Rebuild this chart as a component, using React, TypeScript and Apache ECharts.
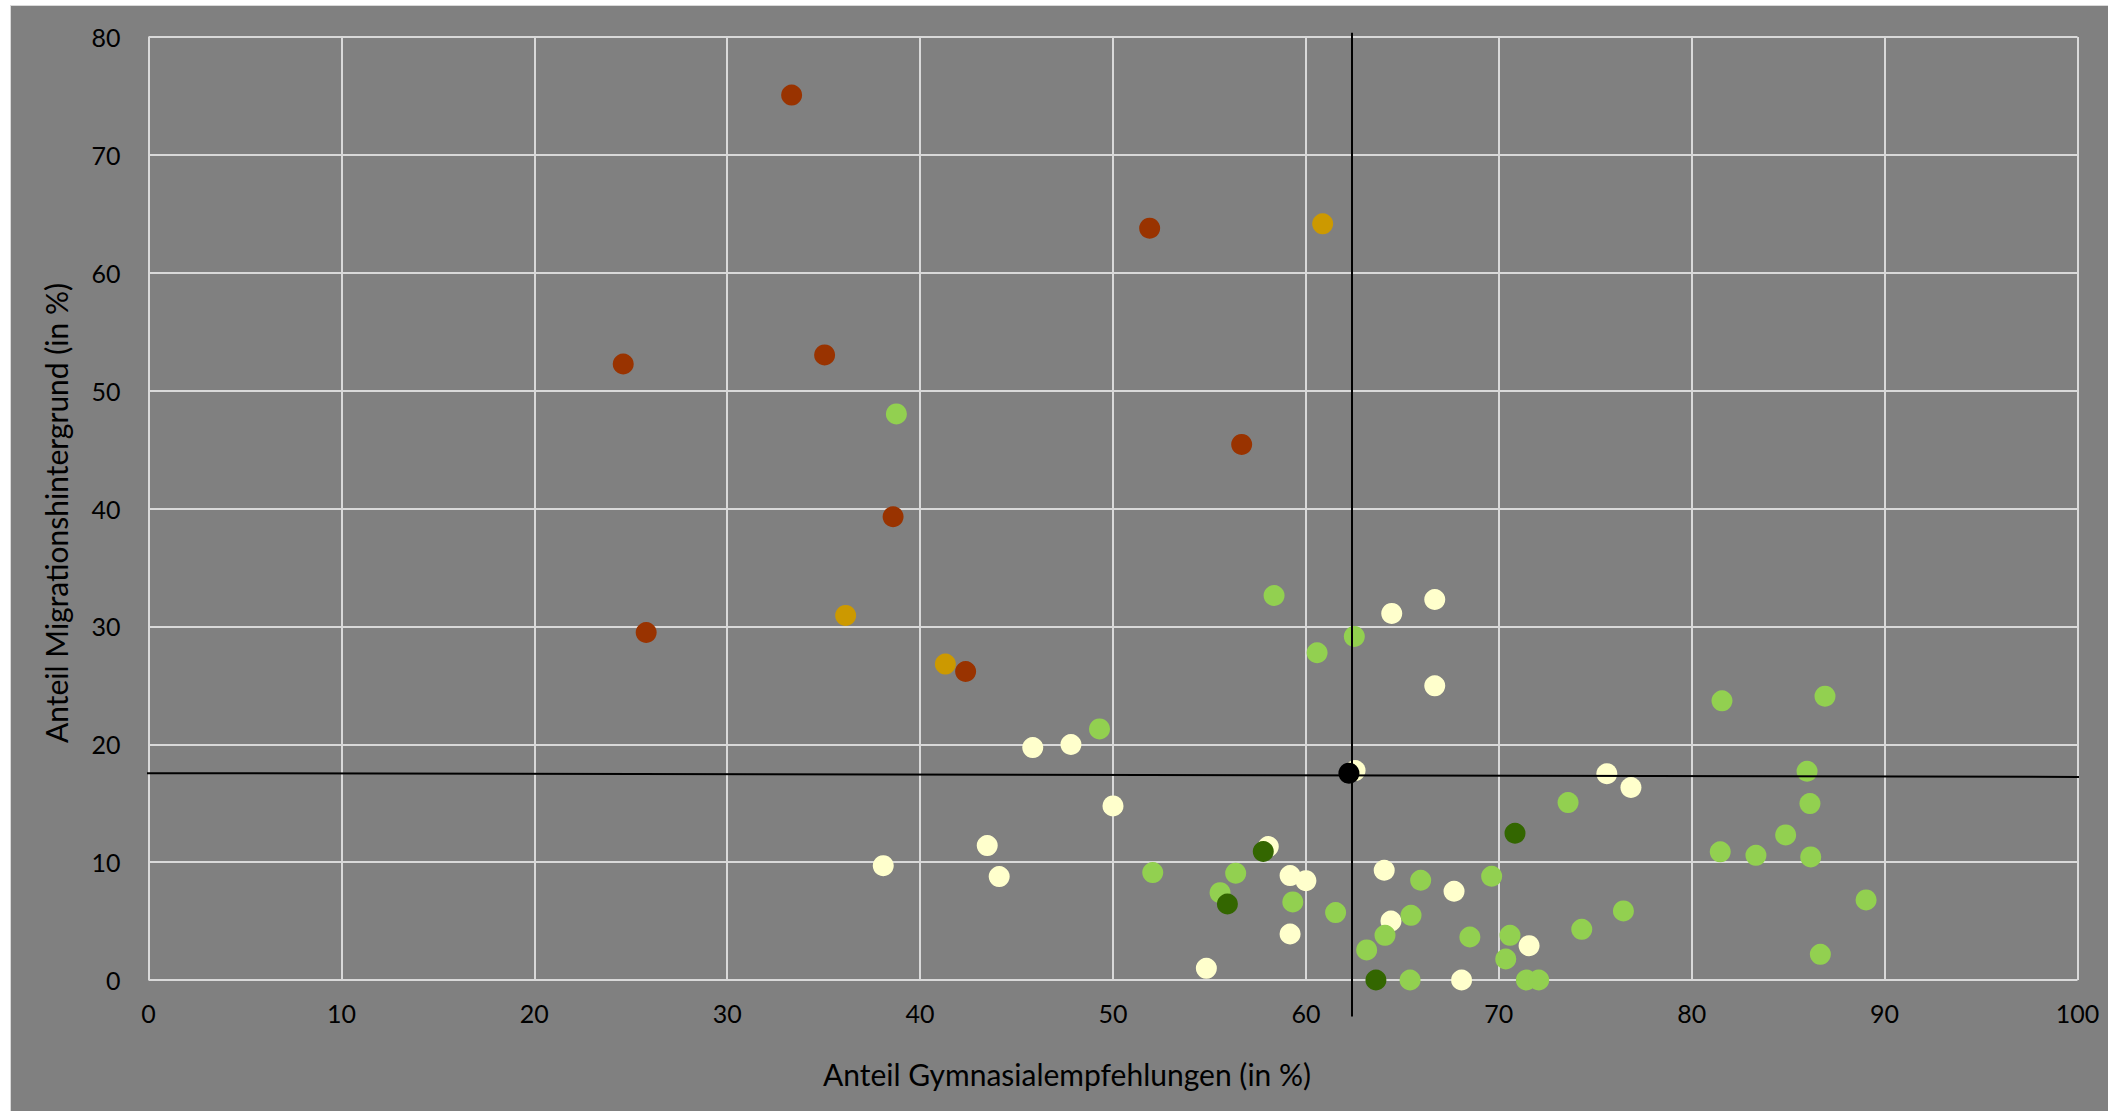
import React, { useEffect, useRef } from "react";
import * as echarts from "echarts";

// Data: [Anteil Gymnasialempfehlungen, Anteil Migrationshintergrund]
const paleYellowPoints: number[][] = [
  [62.55, 17.77], [75.6, 17.5], [76.85, 16.33], [50.0, 14.77], [58.05, 11.32],
  [59.18, 8.86], [60.0, 8.43], [59.18, 3.9], [54.84, 0.99], [64.06, 9.31],
  [67.68, 7.53], [64.41, 5.0], [68.07, 0], [71.57, 2.91], [66.68, 32.28],
  [64.45, 31.1], [66.68, 24.96], [45.84, 19.72], [47.82, 19.98], [38.09, 9.7],
  [43.48, 11.4], [44.1, 8.77],
];
const lightGreenPoints: number[][] = [
  [49.3, 21.3], [38.77, 48.02], [58.35, 32.62], [62.51, 29.15], [60.58, 27.76],
  [81.57, 23.68], [86.91, 24.08], [85.98, 17.71], [86.13, 14.97], [73.59, 15.05],
  [84.87, 12.31], [81.48, 10.87], [83.33, 10.58], [86.17, 10.44], [89.04, 6.79],
  [86.67, 2.18], [76.46, 5.86], [52.06, 9.11], [56.36, 9.06], [55.55, 7.41],
  [59.32, 6.62], [61.54, 5.72], [65.95, 8.46], [69.63, 8.8], [65.45, 5.49],
  [64.1, 3.79], [63.15, 2.55], [65.4, 0], [68.5, 3.65], [70.58, 3.79],
  [70.36, 1.78], [71.43, 0], [72.07, 0], [74.3, 4.3],
];
const darkGreenPoints: number[][] = [
  [57.79, 10.9], [55.93, 6.45], [70.84, 12.45], [63.63, 0],
];
const orangePoints: number[][] = [
  [60.87, 64.15], [36.14, 30.93], [41.31, 26.8],
];
const redPoints: number[][] = [
  [33.34, 75.07], [24.61, 52.26], [35.05, 53.03], [25.8, 29.48],
  [38.6, 39.3], [42.36, 26.17], [51.9, 63.78], [56.67, 45.44],
];
const meanPoint: number[][] = [[62.23, 17.55]];

const verticalRefLine: number[][] = [[62.39, 80.37], [62.39, -3.1]];
const horizontalRefLine: number[][] = [[-0.44, 17.55], [100.2, 17.23]];

const xTickValues = [0, 100, 10];
const yTickValues = [0, 80, 10];

const xTitle = "Anteil Gymnasialempfehlungen (in %)";
const yTitle = "Anteil Migrationshintergrund (in %)";

const FONT = "Lato, 'Open Sans', sans-serif";

export default function App() {
  const ref = useRef<HTMLDivElement>(null);

  useEffect(() => {
    if (!ref.current) return;
    const chart = echarts.init(ref.current, null, { renderer: "svg" });

    const scatter = (name: string, data: number[][], color: string, z: number) => ({
      name,
      type: "scatter",
      data,
      symbol: "circle",
      symbolSize: 21,
      itemStyle: { color, opacity: 1 },
      z,
      silent: true,
    });

    const refLine = (name: string, data: number[][]) => ({
      name,
      type: "line",
      data,
      symbol: "none",
      clip: false,
      lineStyle: { color: "#000000", width: 2 },
      z: 10,
      silent: true,
    });

    chart.setOption({
      animation: false,
      backgroundColor: "#808080",
      textStyle: { fontFamily: FONT },
      grid: { left: 137.5, top: 31, width: 1929, height: 943 },
      xAxis: {
        type: "value",
        min: xTickValues[0],
        max: xTickValues[1],
        interval: xTickValues[2],
        axisLine: { show: false },
        axisTick: { show: false },
        axisLabel: { color: "#000000", fontSize: 25, margin: 20, fontFamily: FONT },
        splitLine: { show: true, lineStyle: { color: "#d9d9d9", width: 2 } },
      },
      yAxis: {
        type: "value",
        min: yTickValues[0],
        max: yTickValues[1],
        interval: yTickValues[2],
        axisLine: { show: false },
        axisTick: { show: false },
        axisLabel: { color: "#000000", fontSize: 25, margin: 28, fontFamily: FONT },
        splitLine: { show: true, lineStyle: { color: "#d9d9d9", width: 2 } },
      },
      graphic: [
        {
          type: "text",
          x: 1056,
          y: 1068,
          style: {
            text: xTitle,
            fill: "#000000",
            fontSize: 30,
            fontFamily: FONT,
            align: "center",
            verticalAlign: "middle",
          },
        },
        {
          type: "text",
          x: 45,
          y: 507,
          rotation: Math.PI / 2,
          style: {
            text: yTitle,
            fill: "#000000",
            fontSize: 30,
            fontFamily: FONT,
            align: "center",
            verticalAlign: "middle",
          },
        },
      ],
      series: [
        scatter("paleYellow", paleYellowPoints, "#ffffcc", 2),
        scatter("lightGreen", lightGreenPoints, "#92d050", 3),
        scatter("darkGreen", darkGreenPoints, "#336600", 4),
        scatter("orange", orangePoints, "#cc9900", 5),
        scatter("red", redPoints, "#993300", 6),
        scatter("mean", meanPoint, "#000000", 7),
        refLine("vertical", verticalRefLine),
        refLine("horizontal", horizontalRefLine),
      ],
    });

    return () => chart.dispose();
  }, []);

  return (
    <div
      style={{
        position: "fixed",
        left: 0,
        top: 0,
        width: 2108,
        height: 1111,
        background: "#ffffff",
        overflow: "hidden",
      }}
    >
      <div
        style={{
          position: "absolute",
          left: 10,
          top: 5,
          width: 2098,
          height: 1106,
          background: "#d9d9d9",
        }}
      />
      <div
        ref={ref}
        style={{ position: "absolute", left: 11, top: 6, width: 2097, height: 1105 }}
      />
    </div>
  );
}
